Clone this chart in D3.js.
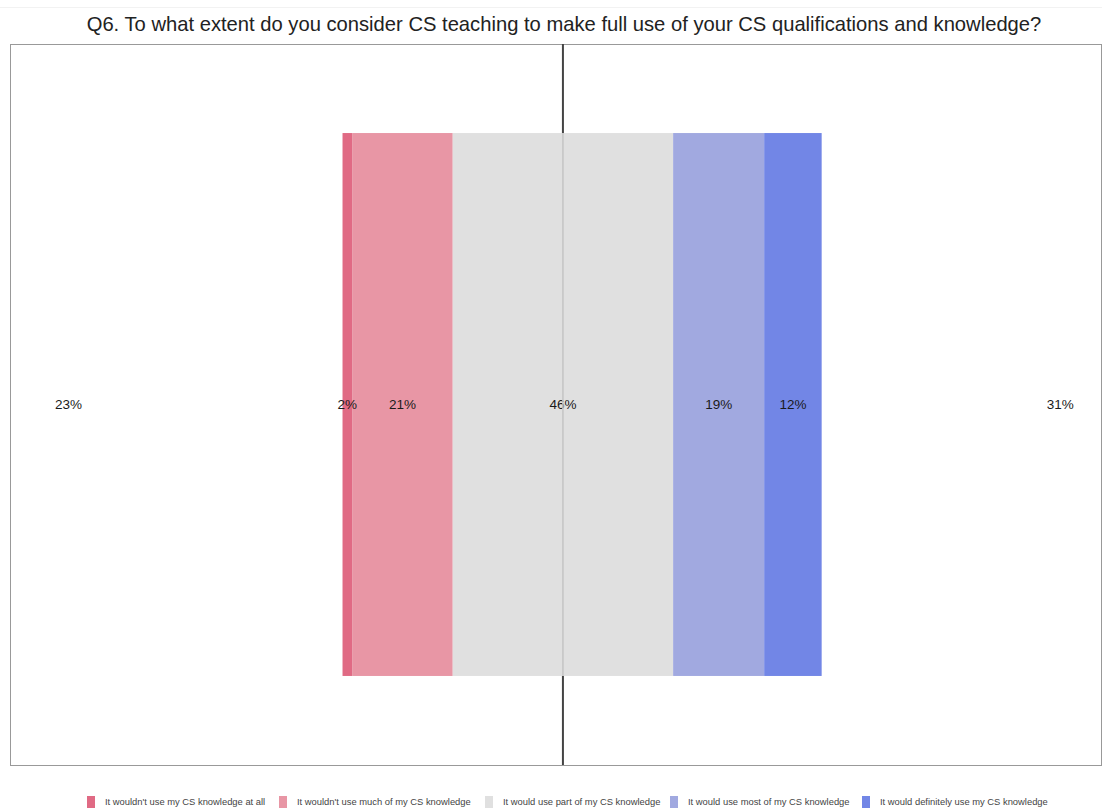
<!DOCTYPE html>
<html>
<head>
<meta charset="utf-8">
<script src="https://cdn.jsdelivr.net/npm/d3@7"></script>
<style>
  body { margin: 0; background: #fff; font-family: "Liberation Sans", Arial, sans-serif; }
</style>
</head>
<body>
<svg id="chart" width="1102" height="810"></svg>
<script>
// survey answers, low -> high
const categories = [
    "It wouldn't use my CS knowledge at all",
    "It wouldn't use much of my CS knowledge",
    "It would use part of my CS knowledge",
    "It would use most of my CS knowledge",
    "It would definitely use my CS knowledge"
];
const percents = [2, 21, 46, 19, 12];
const colors = ["#e06a84", "#e896a5", "#e0e0e0", "#a1a9e0", "#7286e6"];
const question = "Q6. To what extent do you consider CS teaching to make full use of your CS qualifications and knowledge?";
const rows = ["Q6"];

const W = 1102, H = 810;
const panel = { left: 10, top: 44, right: 1101, bottom: 765 };

let svg = d3.select("#chart");

// stack so that the neutral answer sits across zero
let neutral = percents[2];
let start = -(percents[0] + percents[1] + neutral / 2);
let segs = [];
for (let i = 0; i < percents.length; i++) {
    segs.push({ cat: categories[i], v: percents[i], x0: start, x1: start + percents[i], color: colors[i] });
    start += percents[i];
}
let negTotal = percents[0] + percents[1];
let posTotal = percents[3] + percents[4];

let x = d3.scaleLinear().domain([-115.4, 112.3]).range([panel.left, panel.right]);
let y = d3.scaleBand().domain(rows).range([panel.top, panel.bottom]).paddingInner(0).paddingOuter(0.164);

// title
svg.append("text")
    .attr("x", 564)
    .attr("y", 31)
    .attr("text-anchor", "middle")
    .style("font-size", "20.2px")
    .style("fill", "#222")
    .text(question);

svg.append("line")
    .attr("x1", 0).attr("x2", W)
    .attr("y1", 7.5).attr("y2", 7.5)
    .style("stroke", "#f2f2f2");

// panel
svg.append("rect")
    .attr("x", panel.left + 0.5)
    .attr("y", panel.top + 0.5)
    .attr("width", panel.right - panel.left)
    .attr("height", panel.bottom - panel.top)
    .style("fill", "#fff")
    .style("stroke", "#999");

// zero line (behind bars)
svg.append("line")
    .attr("x1", x(0)).attr("x2", x(0))
    .attr("y1", panel.top).attr("y2", panel.bottom)
    .style("stroke", "#444")
    .style("stroke-width", 2);

let g = svg.append("g");
g.selectAll("rect.seg")
    .data(segs)
    .join("rect")
    .attr("class", "seg")
    .attr("x", d => x(d.x0))
    .attr("y", y(rows[0]))
    .attr("width", d => x(d.x1) - x(d.x0))
    .attr("height", y.bandwidth())
    .style("fill", d => d.color);

// light zero line over the bar
svg.append("line")
    .attr("x1", x(0)).attr("x2", x(0))
    .attr("y1", y(rows[0])).attr("y2", y(rows[0]) + y.bandwidth())
    .style("stroke", "#c4c4c4")
    .style("stroke-width", 1.5);

let midY = y(rows[0]) + y.bandwidth() / 2;

g.selectAll("text.lbl")
    .data(segs)
    .join("text")
    .attr("class", "lbl")
    .attr("x", d => x((d.x0 + d.x1) / 2))
    .attr("y", midY)
    .attr("dy", "0.35em")
    .attr("text-anchor", "middle")
    .style("font-size", "13.5px")
    .style("fill", "#1a1a1a")
    .text(d => d.v + "%");

// totals at the edges
svg.append("text")
    .attr("x", x(-103.2))
    .attr("y", midY)
    .attr("dy", "0.35em")
    .attr("text-anchor", "middle")
    .style("font-size", "13.5px")
    .style("fill", "#1a1a1a")
    .text(negTotal + "%");

svg.append("text")
    .attr("x", x(103.8))
    .attr("y", midY)
    .attr("dy", "0.35em")
    .attr("text-anchor", "middle")
    .style("font-size", "13.5px")
    .style("fill", "#1a1a1a")
    .text(posTotal + "%");

// legend
const legendX = [87, 279, 485, 670, 862];
let leg = svg.append("g");
categories.forEach((c, i) => {
    leg.append("rect")
        .attr("x", legendX[i])
        .attr("y", 796)
        .attr("width", 8)
        .attr("height", 12)
        .style("fill", colors[i]);
    leg.append("text")
        .attr("x", legendX[i] + 18)
        .attr("y", 805)
        .style("font-size", "9.4px")
        .style("fill", "#444")
        .text(c);
});
</script>
</body>
</html>
